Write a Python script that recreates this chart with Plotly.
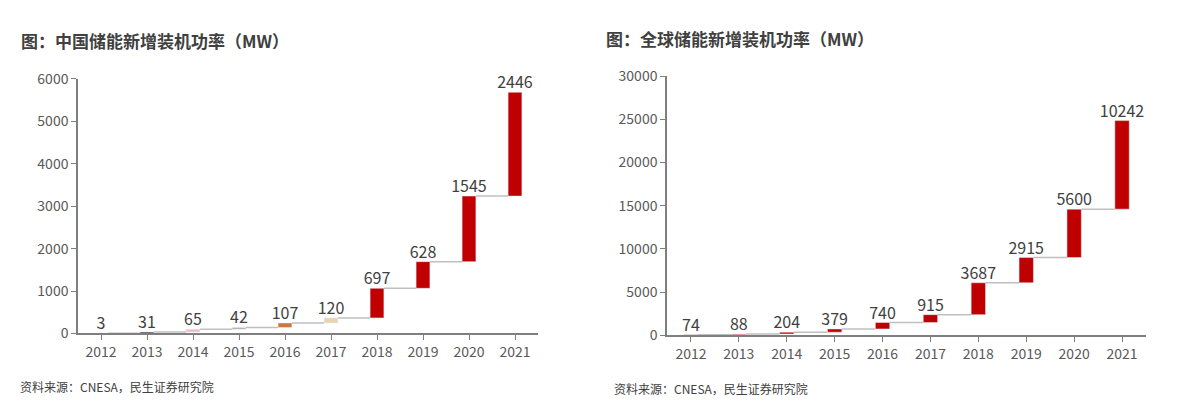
import plotly.graph_objects as go
import numpy as np

years = ["2012","2013","2014","2015","2016","2017","2018","2019","2020","2021"]
cn_vals = [3,31,65,42,107,120,697,628,1545,2446]
gl_vals = [74,88,204,379,740,915,3687,2915,5600,10242]
cn_colors = ["#C00000","#404040","#F4B8C0","#B0B0B0","#C87941","#EBD3B0","#C00000","#C00000","#C00000","#C00000"]
gl_colors = ["#C00000"]*10
title_cn = "图：中国储能新增装机功率（MW）"
title_gl = "图：全球储能新增装机功率（MW）"
source = "资料来源：CNESA，民生证券研究院"

W, H = 1182, 401
fig = go.Figure()
xs = list(range(len(years)))

def add(vals, colors, xa, ya):
    v = np.array(vals)
    top = np.cumsum(v)
    base = top - v
    fig.add_trace(go.Bar(x=xs, y=v, base=base, marker_color=colors, width=0.3,
                         xaxis=xa, yaxis=ya, showlegend=False))
    for i in range(len(years)-1):
        fig.add_trace(go.Scatter(x=[xs[i]+0.15, xs[i+1]-0.15], y=[top[i], top[i]], mode="lines",
                                 line=dict(color="#BFBFBF", width=1.5), xaxis=xa, yaxis=ya,
                                 showlegend=False, hoverinfo="skip"))
    fig.add_trace(go.Scatter(x=xs, y=top, mode="text", text=[str(x) for x in vals],
                             textposition="top center", textfont=dict(size=16, color="#404040"),
                             cliponaxis=False, xaxis=xa, yaxis=ya, showlegend=False, hoverinfo="skip"))

add(cn_vals, cn_colors, "x", "y")
add(gl_vals, gl_colors, "x2", "y2")

ax = dict(showgrid=False, showline=True, linecolor="#7F7F7F", linewidth=1.5, ticks="outside",
          ticklen=5, tickcolor="#7F7F7F", tickfont=dict(size=14, color="#595959"),
          range=[-0.5, 9.5], tickmode="array", tickvals=xs, ticktext=years, zeroline=False)
ay = dict(showgrid=False, showline=True, linecolor="#7F7F7F", linewidth=1.5, ticks="outside",
          ticklen=5, tickcolor="#7F7F7F", tickfont=dict(size=14, color="#595959"), zeroline=False,
          tickformat="d")

def py(px):
    return 1 - px / H

fig.update_layout(
    width=W, height=H, margin=dict(l=0, r=0, t=0, b=0),
    paper_bgcolor="white", plot_bgcolor="white",
    font=dict(family="Noto Sans CJK SC"),
    xaxis=dict(ax, domain=[70/W, 530/W], anchor="y"),
    yaxis=dict(ay, domain=[py(331), py(63)], range=[0, 6000], dtick=1000, anchor="x"),
    xaxis2=dict(ax, domain=[659/W, 1138/W], anchor="y2"),
    yaxis2=dict(ay, domain=[py(333), py(60)], range=[0, 30000], dtick=5000, anchor="x2"),
    annotations=[
        dict(text="<b>"+title_cn+"</b>", x=11/W, y=py(23), xref="paper", yref="paper", xanchor="left",
             yanchor="middle", showarrow=False, font=dict(size=17, color="#404040")),
        dict(text="<b>"+title_gl+"</b>", x=596/W, y=py(20), xref="paper", yref="paper", xanchor="left",
             yanchor="middle", showarrow=False, font=dict(size=17, color="#404040")),
        dict(text=source, x=10/W, y=py(387), xref="paper", yref="paper", xanchor="left",
             yanchor="middle", showarrow=False, font=dict(size=12, color="#404040")),
        dict(text=source, x=604/W, y=py(389), xref="paper", yref="paper", xanchor="left",
             yanchor="middle", showarrow=False, font=dict(size=12, color="#404040")),
    ],
)
fig.write_html("out.html")
